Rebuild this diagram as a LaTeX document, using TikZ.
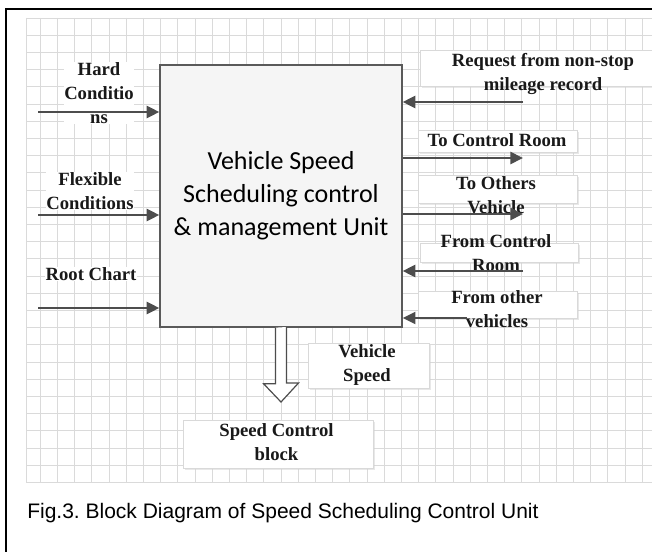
\documentclass[tikz,border=0pt]{standalone}
\usepackage{fontspec}
\setmainfont{Liberation Serif}
\newfontfamily\boxfont{Carlito}
\newfontfamily\capfont{Liberation Sans}
\usetikzlibrary{arrows.meta,shadows,calc}
\definecolor{arrowgray}{HTML}{4D4D4D}
\definecolor{gridgray}{HTML}{DADADA}
\definecolor{boxedge}{HTML}{5A5A5A}

\begin{document}
\frenchspacing
\begin{tikzpicture}[x=0.75pt,y=-0.75pt,
  gridline/.style={draw=gridgray, line width=0.5pt},
  frameline/.style={line width=1.5pt, black},
  unitbox/.style={draw=boxedge, line width=1pt, fill=black!4,
    minimum width=181.5pt, minimum height=196.5pt, inner sep=0pt,
    align=center, font=\boxfont\fontsize{19.5}{24.75}\selectfont},
  lbl/.style={font=\fontsize{14}{18}\selectfont\bfseries, align=center,
    inner sep=0.5pt, text=black!90},
  lblfill/.style={lbl, fill=white},
  lblbox/.style={fill=white, draw=gray!30, line width=0.4pt,
    drop shadow={shadow xshift=1.2pt, shadow yshift=-1.2pt, fill=gray!35}},
  arr/.style={draw=arrowgray, line width=2pt, -{Triangle[length=9.5pt,width=9pt]}},
  thinarr/.style={arr, line width=1.5pt},
  hollowarrow/.style={draw=arrowgray, line width=0.9pt, fill=white, line join=miter},
  caption/.style={font=\capfont\fontsize{15.75}{18}\selectfont, anchor=base west,
    inner sep=0pt}
]
\useasboundingbox (0,0) rectangle (652,552);
\fill[white] (0,0) rectangle (652,552);

% background grid
\foreach \k in {1,...,36}
  \draw[gridline] ({23+17.2*\k},18) -- ({23+17.2*\k},483);
\draw[gridline] (26,18) -- (26,483);
\foreach \k in {0,...,27}
  \draw[gridline] (26,{18+17.2*\k}) -- (652,{18+17.2*\k});

% outer frame
\draw[frameline] (6,552) -- (6,9) -- (652,9);

% label panels
\path[lblbox] (420,50) rectangle (655,86);
\path[lblbox] (418,130) rectangle (577,152);
\path[lblbox] (418,175) rectangle (577,203);
\path[lblbox] (420,243) rectangle (578,262);
\path[lblbox] (418,291) rectangle (577,318);
\path[lblbox] (308,343) rectangle (429,388);
\path[lblbox] (183,420) rectangle (373,468);

% central unit
\node[unitbox] (unit) at (281,196)
  {Vehicle Speed\\Scheduling control\\\& management Unit};

% labels
\node[lblfill] (hard) at (99,93) {Hard\\Conditio\\ns};
\node[lblfill] (flex) at (90,191) {Flexible\\Conditions};
\node[lblfill] (root) at (91,274) {Root Chart};
\node[lbl] (req) at (543,74) {Request from non-stop\\mileage record};
\node[lbl] (tocr) at (497,140) {To Control Room};
\node[lbl] (toov) at (496,195) {To Others\\Vehicle};
\node[lbl] (fromcr) at (496,253) {From Control\\Room};
\node[lbl] (fromov) at (497,309) {From other\\vehicles};
\node[lbl] (vspeed) at (367,365) {Vehicle\\Speed};
\node[lbl] (scb) at (276.5,442.5) {Speed Control\\block};

% free ends of the signal arrows
\coordinate (hard-in) at (38,112);
\coordinate (flex-in) at (38,215);
\coordinate (root-in) at (38,308);
\coordinate (req-in) at (523,102);
\coordinate (tocr-out) at (523,158);
\coordinate (toov-out) at (523,214);
\coordinate (fromcr-in) at (523,271);
\coordinate (fromov-in) at (467,318);
\coordinate (speed-tip) at (281,402);

% inputs on the left
\draw[arr] (hard-in) -- (hard-in -| unit.west);
\draw[arr] (flex-in) -- (flex-in -| unit.west);
\draw[arr] (root-in) -- (root-in -| unit.west);

% right side
\draw[arr] (req-in) -- (req-in -| unit.east);
\draw[arr] (tocr-out -| unit.east) -- (tocr-out);
\draw[arr] (toov-out -| unit.east) -- (toov-out);
\draw[arr] (fromcr-in) -- (fromcr-in -| unit.east);
\draw[thinarr] (fromov-in) -- (fromov-in -| unit.east);

% hollow output arrow
\draw[hollowarrow] ($(unit.south)+(-5.5,0)$) -- ++(0,56) -- ++(-12,0)
  -- (speed-tip) -- ++(17.5,-19) -- ++(-12,0) -- ++(0,-56);

% caption
\node[caption] (cap) at (27,518) {Fig.3. Block Diagram of Speed Scheduling Control Unit};
\end{tikzpicture}
\end{document}
